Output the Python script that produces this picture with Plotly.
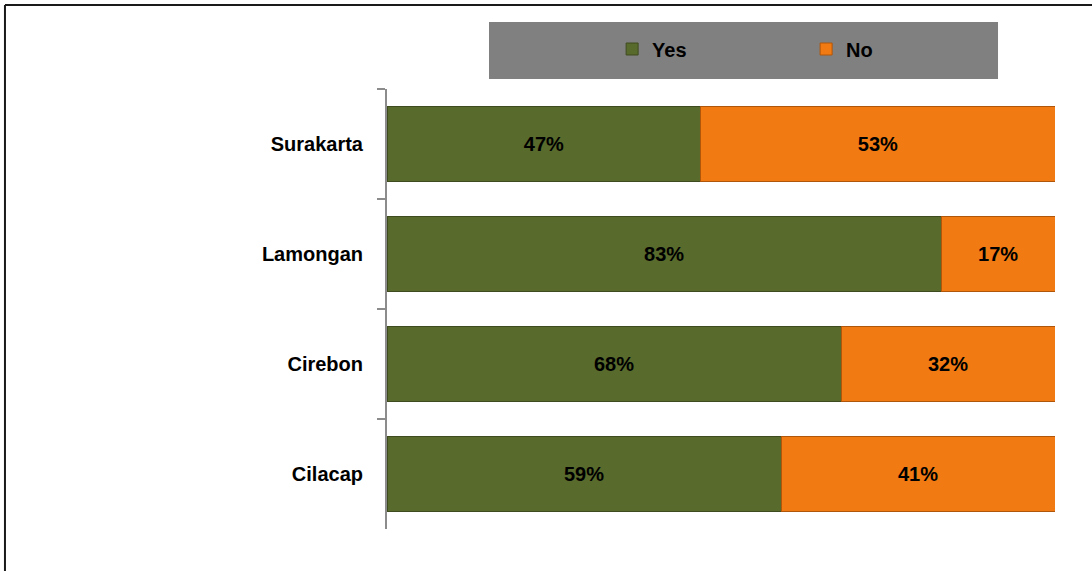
import plotly.graph_objects as go

# Survey results by city (share of respondents, %)
cities = ["Surakarta", "Lamongan", "Cirebon", "Cilacap"]
yes_pct = [47, 83, 68, 59]
no_pct = [53, 17, 32, 41]

FONT = "Liberation Sans Narrow, Arial Narrow, Liberation Sans, Arial, sans-serif"
GREEN = "#586a2c"
ORANGE = "#f27a12"

fig = go.Figure()
fig.add_trace(go.Bar(
    name="Yes", y=cities, x=yes_pct, orientation="h",
    marker=dict(color=GREEN, line=dict(color="#3e4b1f", width=1)),
    texttemplate="%{x}%", textposition="inside", insidetextanchor="middle",
    textfont=dict(family=FONT, size=20, color="black", weight="bold"),
    constraintext="none",
))
fig.add_trace(go.Bar(
    name="No", y=cities, x=no_pct, orientation="h",
    marker=dict(color=ORANGE, line=dict(color="#b0560a", width=1)),
    texttemplate="%{x}%", textposition="inside", insidetextanchor="middle",
    textfont=dict(family=FONT, size=20, color="black", weight="bold"),
    constraintext="none",
))

fig.update_layout(
    width=1092, height=571,
    margin=dict(l=387, r=37, t=89, b=42),
    barmode="stack", bargap=0.31,
    paper_bgcolor="white", plot_bgcolor="white",
    font=dict(family=FONT, size=20, color="black", weight="bold"),
    showlegend=True,
    legend=dict(
        orientation="h", x=0.337, xanchor="left", y=1.0909, yanchor="middle",
        bgcolor="rgba(0,0,0,0)", entrywidth=149, entrywidthmode="pixels",
        font=dict(family=FONT, size=20, color="black", weight="bold"),
        traceorder="normal",
    ),
    xaxis=dict(range=[0, 100], visible=False, fixedrange=True),
    yaxis=dict(
        categoryorder="array", categoryarray=cities, autorange="reversed",
        showline=True, linecolor="#8c8c8c", linewidth=2,
        ticks="outside", tickson="boundaries", ticklen=8, tickcolor="#8c8c8c", tickwidth=2,
        ticklabelstandoff=18, showgrid=False, zeroline=False,
        tickfont=dict(family=FONT, size=20, color="black", weight="bold"),
    ),
    shapes=[
        # legend panel
        dict(type="rect", xref="paper", yref="paper", x0=0.1527, x1=0.9147, y0=1.0227, y1=1.1523,
             fillcolor="#808080", line=dict(width=0), layer="below"),
        # outer frame (top and left edges)
        dict(type="line", xref="paper", yref="paper", x0=-0.5719, x1=1.06, y0=1.1909, y1=1.1909,
             line=dict(color="#1a1a1a", width=2)),
        dict(type="line", xref="paper", yref="paper", x0=-0.5719, x1=-0.5719, y0=1.1909, y1=-0.1,
             line=dict(color="#1a1a1a", width=2)),
    ],
)

fig.write_html("out.html")
